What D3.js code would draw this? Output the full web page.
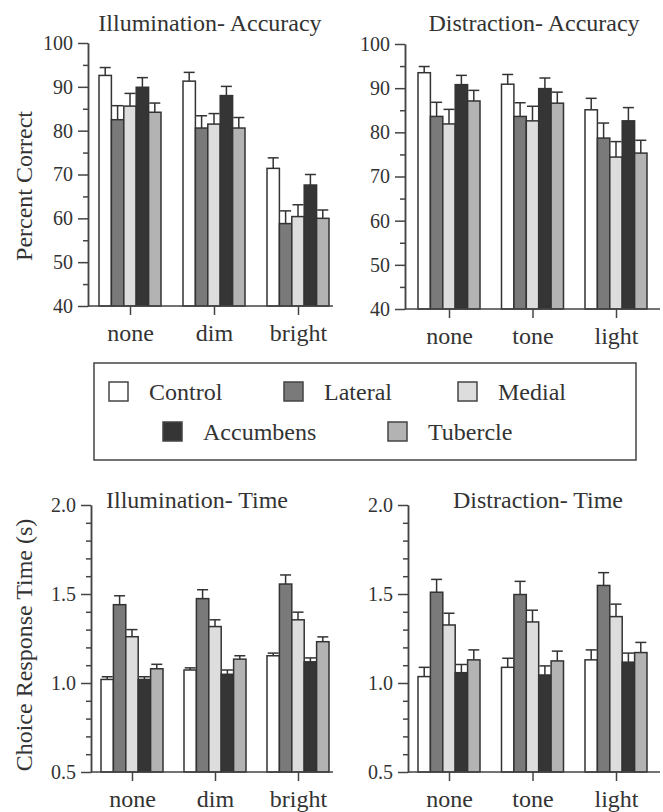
<!DOCTYPE html>
<html>
<head>
<meta charset="utf-8">
<script src="https://cdn.jsdelivr.net/npm/d3@7"></script>
<style>
  body { margin: 0; background: #fff; }
  svg text { font-family: "Liberation Serif", "Times New Roman", serif; fill: #333; }
</style>
</head>
<body>
<script>
/*
 * Data (mean and SEM per lesion group)
 */
const groups = ["Control", "Lateral", "Medial", "Accumbens", "Tubercle"];
const groupFill = ["#ffffff", "#7a7a7a", "#dddddd", "#353535", "#b3b3b3"];

const illumCats = ["none", "dim", "bright"];
const distrCats = ["none", "tone", "light"];

const illumAccMean = [[92.6, 82.5, 85.6, 89.9, 84.2], [91.3, 80.6, 81.5, 88.0, 80.6], [71.4, 58.8, 60.4, 67.6, 60.0]];
const illumAccErr  = [[1.8, 3.2, 2.9, 2.2, 2.1], [2.0, 2.8, 2.4, 2.1, 2.4], [2.4, 2.9, 2.7, 2.4, 1.9]];

const distrAccMean = [[93.5, 83.6, 81.9, 90.8, 87.1], [90.9, 83.6, 82.6, 89.9, 86.6], [85.1, 78.7, 74.4, 82.6, 75.3]];
const distrAccErr  = [[1.4, 3.2, 3.3, 2.1, 2.4], [2.2, 3.1, 3.3, 2.4, 2.5], [2.6, 3.4, 3.5, 3.0, 2.9]];

const illumTimeMean = [[1.02, 1.44, 1.26, 1.02, 1.08], [1.073, 1.474, 1.317, 1.049, 1.134], [1.153, 1.556, 1.355, 1.119, 1.232]];
const illumTimeErr  = [[0.015, 0.05, 0.04, 0.015, 0.025], [0.012, 0.05, 0.038, 0.024, 0.019], [0.015, 0.051, 0.043, 0.022, 0.027]];

const distrTimeMean = [[1.036, 1.51, 1.326, 1.058, 1.13], [1.088, 1.497, 1.343, 1.045, 1.124], [1.13, 1.548, 1.373, 1.117, 1.171]];
const distrTimeErr  = [[0.052, 0.072, 0.066, 0.046, 0.056], [0.051, 0.074, 0.066, 0.051, 0.055], [0.056, 0.072, 0.07, 0.051, 0.057]];

const accTicks = [40, 50, 60, 70, 80, 90, 100];
const accMinor = [45, 55, 65, 75, 85, 95];
const timeTicks = [0.5, 1.0, 1.5, 2.0];
const timeMinor = [0.6, 0.7, 0.8, 0.9, 1.1, 1.2, 1.3, 1.4, 1.6, 1.7, 1.8, 1.9];

const serif = '"Liberation Serif", "Times New Roman", serif';

/*
 * Panel layout
 */
const panels = [
  { title: "Illumination- Accuracy", cats: illumCats, mean: illumAccMean, err: illumAccErr,
    dom: [40, 100], ticks: accTicks, minor: accMinor, fmt: d3.format("d"),
    ax: 88, axEnd: 333, c0: 130, c1: 298, top: 43, bottom: 306, tx: 210, ty: 31 },
  { title: "Distraction- Accuracy", cats: distrCats, mean: distrAccMean, err: distrAccErr,
    dom: [40, 100], ticks: accTicks, minor: accMinor, fmt: d3.format("d"),
    ax: 405, axEnd: 660, c0: 449, c1: 616, top: 44, bottom: 309, tx: 534, ty: 31 },
  { title: "Illumination- Time", cats: illumCats, mean: illumTimeMean, err: illumTimeErr,
    dom: [0.5, 2.0], ticks: timeTicks, minor: timeMinor, fmt: d3.format(".1f"),
    ax: 91, axEnd: 333, c0: 132, c1: 298, top: 505, bottom: 772, tx: 197, ty: 508 },
  { title: "Distraction- Time", cats: distrCats, mean: distrTimeMean, err: distrTimeErr,
    dom: [0.5, 2.0], ticks: timeTicks, minor: timeMinor, fmt: d3.format(".1f"),
    ax: 408, axEnd: 660, c0: 449, c1: 616, top: 505, bottom: 772, tx: 538, ty: 508 }
];

const svg = d3.select("body").append("svg")
  .attr("width", 663)
  .attr("height", 812)
  .attr("font-family", serif);

const inner = d3.scaleBand().domain(groups).range([-31, 31]).padding(0);
const fillScale = d3.scaleOrdinal().domain(groups).range(groupFill);

panels.forEach(p => {
  const g = svg.append("g");
  const y = d3.scaleLinear().domain(p.dom).range([p.bottom, p.top]);
  const x = d3.scalePoint().domain(p.cats).range([p.c0, p.c1]);

  // bars
  const rows = [];
  p.cats.forEach((c, i) => {
    groups.forEach((s, j) => rows.push({ cat: c, grp: s, m: p.mean[i][j], e: p.err[i][j] }));
  });

  const bar = g.selectAll("g.bar").data(rows).enter().append("g").attr("class", "bar");

  bar.append("line")
    .attr("x1", d => x(d.cat) + inner(d.grp) + inner.bandwidth() / 2)
    .attr("x2", d => x(d.cat) + inner(d.grp) + inner.bandwidth() / 2)
    .attr("y1", d => y(d.m))
    .attr("y2", d => y(d.m + d.e))
    .attr("stroke", "#333").attr("stroke-width", 1.5);

  bar.append("line")
    .attr("x1", d => x(d.cat) + inner(d.grp) + inner.bandwidth() / 2 - 5.5)
    .attr("x2", d => x(d.cat) + inner(d.grp) + inner.bandwidth() / 2 + 5.5)
    .attr("y1", d => y(d.m + d.e))
    .attr("y2", d => y(d.m + d.e))
    .attr("stroke", "#333").attr("stroke-width", 1.5);

  bar.append("rect")
    .attr("x", d => x(d.cat) + inner(d.grp))
    .attr("y", d => y(d.m))
    .attr("width", inner.bandwidth())
    .attr("height", d => y(p.dom[0]) - y(d.m))
    .attr("fill", d => fillScale(d.grp))
    .attr("stroke", "#333").attr("stroke-width", 1.5);

  // y axis
  const yAxis = g.append("g")
    .attr("transform", `translate(${p.ax},0)`)
    .call(d3.axisLeft(y).tickValues(p.ticks).tickFormat(p.fmt).tickSize(10).tickSizeOuter(0).tickPadding(5));
  g.append("g")
    .attr("transform", `translate(${p.ax},0)`)
    .call(d3.axisLeft(y).tickValues(p.minor).tickFormat("").tickSize(5).tickSizeOuter(0));

  // x axis
  const xAxis = g.append("g")
    .attr("transform", `translate(0,${p.bottom})`)
    .call(d3.axisBottom(x).tickSize(9).tickPadding(9));
  xAxis.select(".domain").remove();
  g.append("line")
    .attr("x1", p.ax).attr("x2", p.axEnd)
    .attr("y1", p.bottom).attr("y2", p.bottom)
    .attr("stroke", "#444").attr("stroke-width", 1.5);

  g.selectAll("g").attr("font-family", serif);
  g.selectAll(".domain, .tick line").attr("stroke", "#444").attr("stroke-width", 1.5);
  yAxis.selectAll("text").style("font-size", "20px").attr("fill", "#333");
  xAxis.selectAll("text").style("font-size", "24px").attr("fill", "#333");

  g.append("text")
    .attr("x", p.tx).attr("y", p.ty)
    .attr("text-anchor", "middle")
    .style("font-size", "24px")
    .text(p.title);
});

// y axis labels
svg.append("text")
  .attr("transform", "translate(32,186) rotate(-90)")
  .attr("text-anchor", "middle")
  .style("font-size", "24px")
  .text("Percent Correct");

svg.append("text")
  .attr("transform", "translate(32,645) rotate(-90)")
  .attr("text-anchor", "middle")
  .style("font-size", "24px")
  .text("Choice Response Time (s)");

/*
 * Legend
 */
const legendPos = [[109, 382], [284, 382], [458, 382], [163, 422], [388, 422]];

const legend = svg.append("g");
legend.append("rect")
  .attr("x", 94).attr("y", 363)
  .attr("width", 542).attr("height", 97)
  .attr("fill", "none")
  .attr("stroke", "#444").attr("stroke-width", 1.5);

const item = legend.selectAll("g.item").data(groups).enter().append("g")
  .attr("class", "item")
  .attr("transform", (d, i) => `translate(${legendPos[i][0]},${legendPos[i][1]})`);

item.append("rect")
  .attr("width", 19).attr("height", 19)
  .attr("fill", d => fillScale(d))
  .attr("stroke", "#444").attr("stroke-width", 1.5);

item.append("text")
  .attr("x", 40).attr("y", 18)
  .style("font-size", "24px")
  .text(d => d);
</script>
</body>
</html>
